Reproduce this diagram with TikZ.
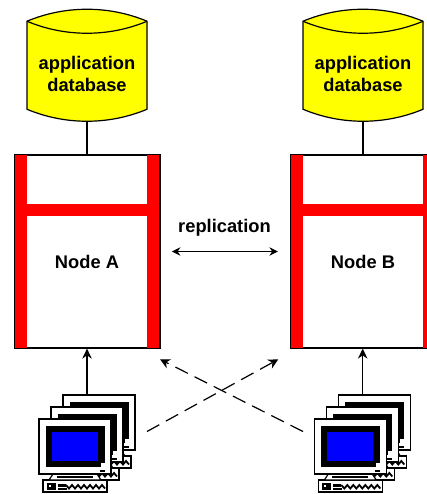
\documentclass[tikz,border=0pt]{standalone}
\usepackage{fontspec}
\setmainfont{Liberation Sans}
\usetikzlibrary{arrows.meta}
\definecolor{dbyellow}{RGB}{255,255,0}
\definecolor{barred}{RGB}{255,0,0}
\definecolor{screenblue}{RGB}{0,0,255}
\tikzset{
  x=1pt,y=-1pt,
  label text/.style={font=\bfseries\fontsize{18.3}{21.6}\selectfont,text=black,align=center,inner sep=0},
  wire/.style={draw=black,line width=1.2pt},
  arrow/.style={wire,-{Stealth[length=10pt,width=9.5pt]}},
  twoarrow/.style={wire,{Stealth[length=8.5pt,width=8.5pt]}-{Stealth[length=8.5pt,width=8.5pt]}},
  dasharrow/.style={wire,-{Stealth[length=10pt,width=10pt]},dash pattern=on 14pt off 7.5pt},
  hull/.style={draw=black,line width=1.2pt},
  nodebox/.style={draw=black,line width=1.2pt,fill=white,minimum width=144pt,minimum height=193pt,inner sep=0},
  dbnode/.style={minimum width=120pt,minimum height=112.5pt,inner sep=0},
  pics/database/.style={code={
    \path[hull,fill=dbyellow] (-60,-44) .. controls (-22,-60) and (22,-60) .. (60,-44)
      -- (60,44) .. controls (22,60) and (-22,60) .. (-60,44) -- cycle;
    \path[hull] (-60,-44) .. controls (-22,-28) and (22,-28) .. (60,-44);
  }},
  pics/redframe/.style={code={
    \fill[barred] (-72,-96.5) rectangle (-60,96.5);
    \fill[barred] (60,-96.5) rectangle (72,96.5);
    \fill[barred] (-60,-47.5) rectangle (60,-35.5);
  }},
  pics/monitor/.style={code={
    % keyboard
    \path[hull,fill=white,line width=1.4pt] (4,61) rectangle (68,73);
    \fill[black] (8,63.5) rectangle (17,70.5);
    \fill[white] (10,65.5) rectangle (12,67.5);
    \fill[black] (19,65) rectangle (27,67.5);
    \draw[black,line width=1.8pt] (27,66) -- (30,69.5) -- (33,66) -- (36,69.5) -- (39,66) -- (42,69.5) -- (45,66) -- (48,69.5) -- (51,66) -- (54,69.5) -- (57,66) -- (60,69.5) -- (63,66) -- (66,69.5);
    \fill[black] (19,69) rectangle (28,71);
    % stand
    \path[hull,fill=white,line width=1.2pt] (14,55) -- (58,55) -- (62,61) -- (10,61) -- cycle;
    \fill[black] (18,57) rectangle (54,59);
    % case
    \path[hull,fill=white] (0,0) rectangle (72,55);
    \fill[black] (6.5,6.5) rectangle (66,47.5);
    \fill[white] (62,47.5) rectangle (66,44);
    \fill[black] (61,51) rectangle (66,52.5);
    \fill[screenblue] (12.5,13) rectangle (59,41.5);
  }},
  pics/backmonitor/.style={code={
    \path[hull,fill=white,line width=1.4pt] (4,61) rectangle (68,73);
    \draw[black,line width=1.8pt] (27,66) -- (30,69.5) -- (33,66) -- (36,69.5) -- (39,66) -- (42,69.5) -- (45,66) -- (48,69.5) -- (51,66) -- (54,69.5) -- (57,66) -- (60,69.5) -- (63,66) -- (66,69.5);
    \path[hull,fill=white,line width=1.2pt] (14,55) -- (58,55) -- (62,61) -- (10,61) -- cycle;
    \path[hull,fill=white] (0,0) rectangle (72,55);
    \fill[black] (6.5,6.5) rectangle (66,47.5);
    \fill[white] (62,47.5) rectangle (66,44);
    \fill[black] (61,51) rectangle (66,52.5);
  }},
}
\begin{document}
\begin{tikzpicture}
\useasboundingbox (0,0) rectangle (427,494);
\begin{scope}
\clip (0,0) rectangle (427,494);
% node boxes
\node[nodebox] (boxA) at (87.3,251.5) {};
\node[nodebox] (boxB) at (363,251.5) {};
\pic at (boxA.center) {redframe};
\pic at (boxB.center) {redframe};
\draw[hull] (boxA.north west) rectangle (boxA.south east);
\draw[hull] (boxB.north west) rectangle (boxB.south east);
\end{scope}
\node[label text] at (87,262) {Node A};
\node[label text] at (363,262) {Node B};
% databases
\pic at (87,65.25) {database};
\pic at (363,65.25) {database};
\node[dbnode] (dbA) at (87,65.25) {};
\node[dbnode] (dbB) at (363,65.25) {};
\node[label text] at (87,74) {application\\database};
\node[label text] at (363,74) {application\\database};
% workstations
\pic at (63,395) {backmonitor};
\pic at (51,407) {backmonitor};
\pic at (39,419) {monitor};
\pic at (338.3,395) {backmonitor};
\pic at (326.3,407) {backmonitor};
\pic at (314.3,419) {monitor};
\coordinate (pcA) at (87,395);
\coordinate (pcB) at (362.7,395);
\coordinate (pcAout) at (147,431.5);
\coordinate (pcBout) at (303,431.5);
\coordinate (boxAin) at (160,359.3);
\coordinate (boxBin) at (278.3,359.3);
% connectors
\draw[wire] (dbA.south) -- (dbA.south |- boxA.north);
\draw[wire] (dbB.south) -- (dbB.south |- boxB.north);
\draw[arrow] (pcA) -- (pcA |- boxA.south);
\draw[arrow] (pcB) -- (pcB |- boxB.south);
\draw[dasharrow] (pcAout) -- (boxBin);
\draw[dasharrow] (pcBout) -- (boxAin);
\draw[twoarrow] ([xshift=12pt]boxA.east) -- ([xshift=-12.5pt]boxB.west);
\node[label text] at (224.5,228) {replication};
\end{tikzpicture}
\end{document}
